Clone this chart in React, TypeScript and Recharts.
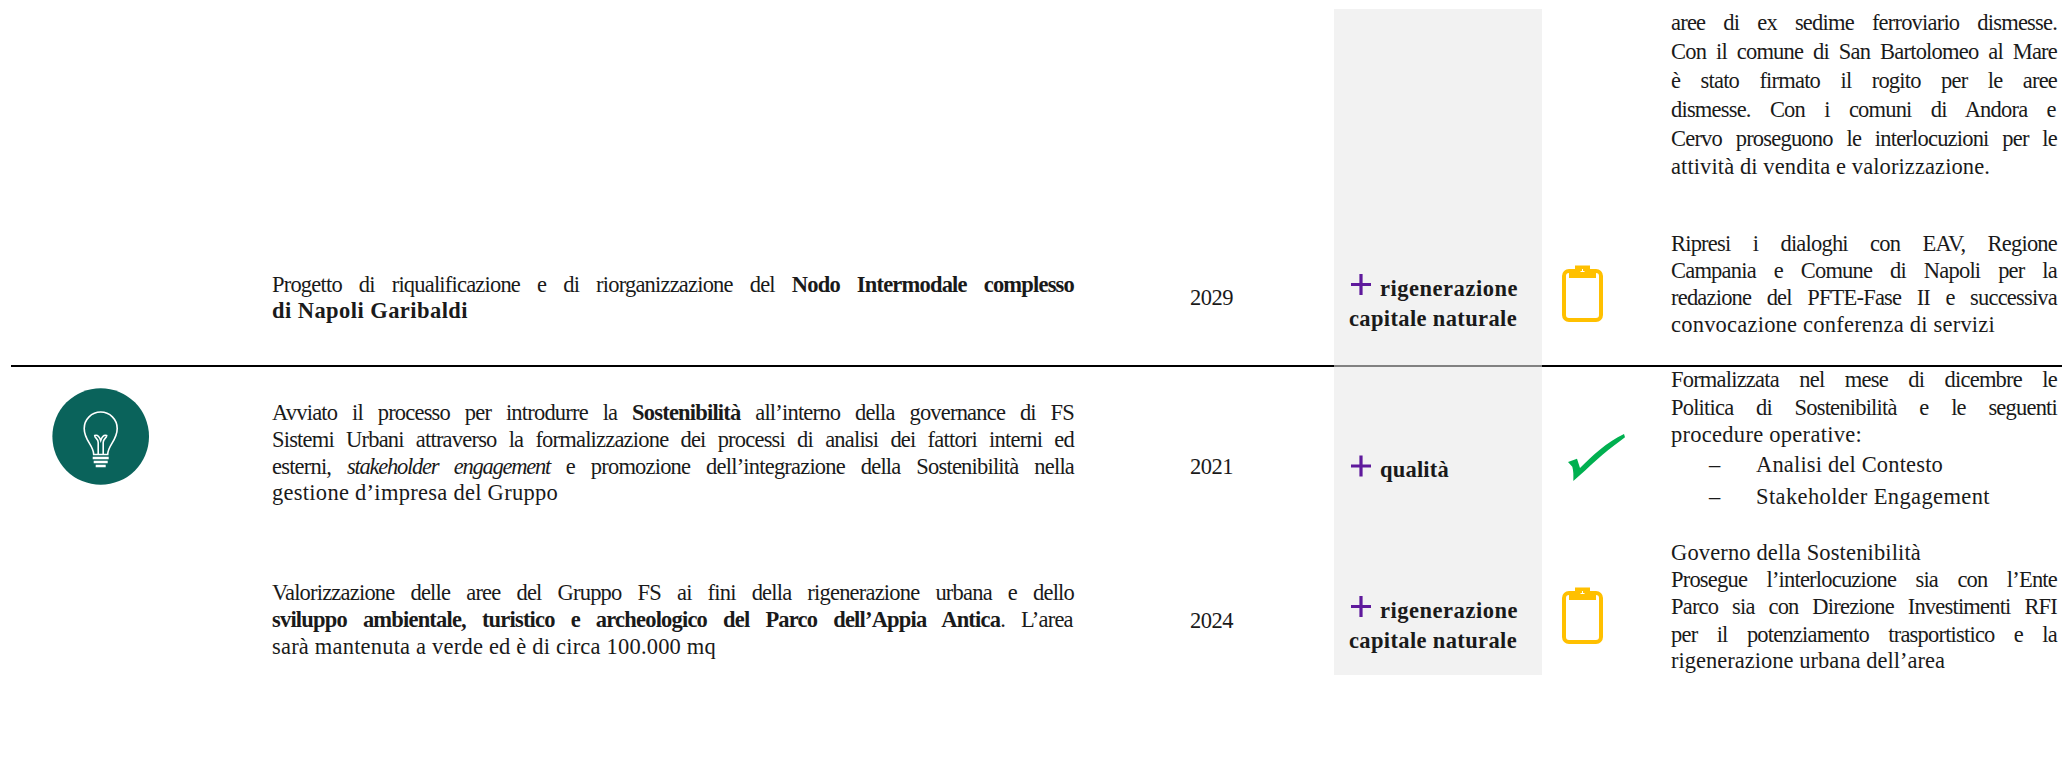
import { ReferenceArea, ReferenceLine, Scatter, ScatterChart, XAxis, YAxis } from "recharts"

const W = 2062
const H = 765
const FONT = '"Liberation Serif", serif'
const FONT_SIZE = 22.5
const BASE_TRACKING = -0.8
const ITALIC_TRACKING = -1.25
const DESC_RIGHT = 1074
const NOTE_RIGHT = 2057

// table content: ** = bold, __ = italic
const years = [2029, 2021, 2024]
const statuses = ["pending", "done", "pending"]
const themes = [
  ["rigenerazione", "capitale naturale"],
  ["qualità"],
  ["rigenerazione", "capitale naturale"],
]
const descriptionLines = [
  "Progetto di riqualificazione e di riorganizzazione del **Nodo Intermodale complesso**",
  "**di Napoli Garibaldi**",
  "Avviato il processo per introdurre la **Sostenibilità** all’interno della governance di FS",
  "Sistemi Urbani attraverso la formalizzazione dei processi di analisi dei fattori interni ed",
  "esterni, __stakeholder engagement__ e promozione dell’integrazione della Sostenibilità nella",
  "gestione d’impresa del Gruppo",
  "Valorizzazione delle aree del Gruppo FS ai fini della rigenerazione urbana e dello",
  "**sviluppo ambientale, turistico e archeologico del Parco dell’Appia Antica**. L’area",
  "sarà mantenuta a verde ed è di circa 100.000 mq",
]
const progressLines = [
  "aree di ex sedime ferroviario dismesse.",
  "Con il comune di San Bartolomeo al Mare",
  "è stato firmato il rogito per le aree",
  "dismesse. Con i comuni di Andora e",
  "Cervo proseguono le interlocuzioni per le",
  "attività di vendita e valorizzazione.",
  "Ripresi i dialoghi con EAV, Regione",
  "Campania e Comune di Napoli per la",
  "redazione del PFTE-Fase II e successiva",
  "convocazione conferenza di servizi",
  "Formalizzata nel mese di dicembre le",
  "Politica di Sostenibilità e le seguenti",
  "procedure operative:",
  "Governo della Sostenibilità",
  "Prosegue l’interlocuzione sia con l’Ente",
  "Parco sia con Direzione Investimenti RFI",
  "per il potenziamento trasportistico e la",
  "rigenerazione urbana dell’area",
]
const bulletLines = ["Analisi del Contesto", "Stakeholder Engagement"]

// layout, kept apart from the text above
const descBaselines = [292, 318, 420, 447, 474, 500, 600, 627, 654]
const descEnds = [DESC_RIGHT, 468, DESC_RIGHT, DESC_RIGHT, DESC_RIGHT, 558, DESC_RIGHT, DESC_RIGHT, 716]
const progBaselines = [30, 59, 88, 117, 146, 174, 251, 278, 305, 332, 387, 415, 442, 560, 587, 614, 642, 668]
const progEnds = [
  NOTE_RIGHT, NOTE_RIGHT, NOTE_RIGHT, NOTE_RIGHT, NOTE_RIGHT, 1990,
  NOTE_RIGHT, NOTE_RIGHT, NOTE_RIGHT, 1995,
  NOTE_RIGHT, NOTE_RIGHT, 1862,
  1921, NOTE_RIGHT, NOTE_RIGHT, NOTE_RIGHT, 1945,
]
const bulletBaselines = [472, 504]
const bulletEnds = [1943, 1990]
const yearBaselines = [305, 474, 628]
const statusCenters = [294, 458, 616]
const themeBaselines = [[296, 326], [477], [618, 648]]
const themeX = [[1380, 1349], [1380], [1380, 1349]]
const themeEnds = [[1518, 1517], [1449], [1518, 1517]]
const plusCenters = [284.5, 466, 606.5]

const ctx = document.createElement("canvas").getContext("2d")!

const parseRuns = (line: string) =>
  line
    .split(/(\*\*.*?\*\*|__.*?__)/)
    .filter(Boolean)
    .map((part) => {
      if (part.startsWith("**")) return { text: part.slice(2, -2), weight: "bold", style: "normal" }
      if (part.startsWith("__")) return { text: part.slice(2, -2), weight: "normal", style: "italic" }
      return { text: part, weight: "normal", style: "normal" }
    })

// work out the spacing that makes a line fill the width it has in the reference
const fitLine = (runs: ReturnType<typeof parseRuns>, width: number, justified: boolean) => {
  let natural = 0
  let chars = 0
  let spaces = 0
  let tracked = 0
  runs.forEach((r) => {
    ctx.font = `${r.style} ${r.weight} ${FONT_SIZE}px "Liberation Serif"`
    natural += ctx.measureText(r.text).width
    chars += r.text.length
    spaces += r.text.split(" ").length - 1
    tracked += r.text.length * (r.style === "italic" ? ITALIC_TRACKING : BASE_TRACKING)
  })
  const slack = width - natural - tracked
  if (justified && spaces > 0 && slack >= 0) return { letterSpacing: BASE_TRACKING, wordSpacing: slack / spaces }
  return { letterSpacing: (width - natural) / chars, wordSpacing: 0 }
}

const LineShape = (props: any) => {
  const { cx, cy, payload } = props
  const runs = parseRuns(payload.text)
  const justified = payload.end === DESC_RIGHT || payload.end === NOTE_RIGHT
  const fit = fitLine(runs, payload.end - payload.x, justified)
  return (
    <text
      x={cx}
      y={cy}
      fontFamily={FONT}
      fontSize={FONT_SIZE}
      fill="#1a1a1a"
      style={{ letterSpacing: fit.letterSpacing, wordSpacing: fit.wordSpacing, whiteSpace: "pre" }}
    >
      {runs.map((r, i) => (
        <tspan
          key={i}
          fontWeight={r.weight}
          fontStyle={r.style}
          style={r.style === "italic" ? { letterSpacing: ITALIC_TRACKING } : undefined}
        >
          {r.text}
        </tspan>
      ))}
    </text>
  )
}

const PlusShape = ({ cx, cy }: any) => (
  <path d={`M${cx - 10} ${cy}H${cx + 10}M${cx} ${cy - 10.5}V${cy + 10.5}`} stroke="#5f1a9c" strokeWidth={3.2} fill="none" />
)

const StatusShape = ({ cx, cy, payload }: any) => {
  if (payload.status === "done") {
    return (
      <path
        transform={`translate(${cx} ${cy})`}
        d="M-29 4 L-20 0.7 L-17 10 C-5 -2 10 -16 27 -24 L28 -20.7 C12 -9 -2 3 -11.3 12 L-23.7 23 C-23.5 17 -23.5 13 -24.7 8.7 Z"
        fill="#00b050"
      />
    )
  }
  return (
    <g transform={`translate(${cx} ${cy})`}>
      <rect x={-18.5} y={-23} width={37} height={49} rx={5} fill="none" stroke="#ffc000" strokeWidth={4} />
      <path d="M-7.5 -28.5H7.5V-24.5L13.5 -22.5V-16H-13.5V-22.5L-7.5 -24.5Z" fill="#ffc000" />
      <path d="M-2 -22.5H2M0 -25V-22" stroke="#fff" strokeWidth={1} />
    </g>
  )
}

const BulbShape = ({ cx, cy }: any) => (
  <g transform={`translate(${cx} ${cy})`}>
    <circle r={48.3} fill="#0a635b" />
    <g fill="none" stroke="#fff" strokeWidth={1.6}>
      <path d="M-7 18 C-7 9 -16.5 4 -16.5 -8 A16.5 16.5 0 1 1 16.5 -8 C16.5 4 7 9 7 18 Z" />
      <path d="M-2.5 18 V6 C-2.5 2 -6 2 -6 -1 C-3 -2 -1 1 0 4 C1 1 3 -2 6 -1 C6 2 2.5 2 2.5 6 V18" />
    </g>
    <path d="M-8 21.5H8M-7 25.5H7M-5 29.5H5" stroke="#fff" strokeWidth={2.4} fill="none" />
  </g>
)

const textRows = [
  ...descriptionLines.map((text, i) => ({ x: 272, y: descBaselines[i], end: descEnds[i], text })),
  ...progressLines.map((text, i) => ({ x: 1671, y: progBaselines[i], end: progEnds[i], text })),
  ...bulletLines.map((text, i) => ({ x: 1756, y: bulletBaselines[i], end: bulletEnds[i], text })),
  ...bulletLines.map((_, i) => ({ x: 1709, y: bulletBaselines[i], end: 1721, text: "–" })),
  ...years.map((year, i) => ({ x: 1190, y: yearBaselines[i], end: 1233, text: String(year) })),
  ...themes.flatMap((lines, i) =>
    lines.map((text, j) => ({ x: themeX[i][j], y: themeBaselines[i][j], end: themeEnds[i][j], text: `**${text}**` }))
  ),
]
const plusRows = plusCenters.map((y) => ({ x: 1361, y }))
const statusRows = statuses.map((status, i) => ({ x: status === "done" ? 1597 : 1582.5, y: statusCenters[i], status }))
const bulbRows = [{ x: 100.7, y: 436.5 }]

export default function App() {
  return (
    <div style={{ position: "absolute", left: 0, top: 0, width: W, height: H, background: "#fff" }}>
      <ScatterChart width={W} height={H} margin={{ top: 0, right: 0, bottom: 0, left: 0 }}>
        <XAxis type="number" dataKey="x" domain={[0, W]} hide />
        <YAxis type="number" dataKey="y" domain={[0, H]} reversed hide />
        <ReferenceArea x1={1334} x2={1542} y1={9} y2={675} fill="#f2f2f2" fillOpacity={1} stroke="none" />
        <ReferenceLine segment={[{ x: 11, y: 366 }, { x: 1334, y: 366 }]} stroke="#000" strokeWidth={2} />
        <ReferenceLine segment={[{ x: 1334, y: 366 }, { x: 1542, y: 366 }]} stroke="#111" strokeWidth={1} />
        <ReferenceLine segment={[{ x: 1542, y: 366 }, { x: W, y: 366 }]} stroke="#000" strokeWidth={2} />
        <Scatter data={bulbRows} shape={BulbShape} isAnimationActive={false} />
        <Scatter data={plusRows} shape={PlusShape} isAnimationActive={false} />
        <Scatter data={statusRows} shape={StatusShape} isAnimationActive={false} />
        <Scatter data={textRows} shape={LineShape} isAnimationActive={false} />
      </ScatterChart>
    </div>
  )
}
